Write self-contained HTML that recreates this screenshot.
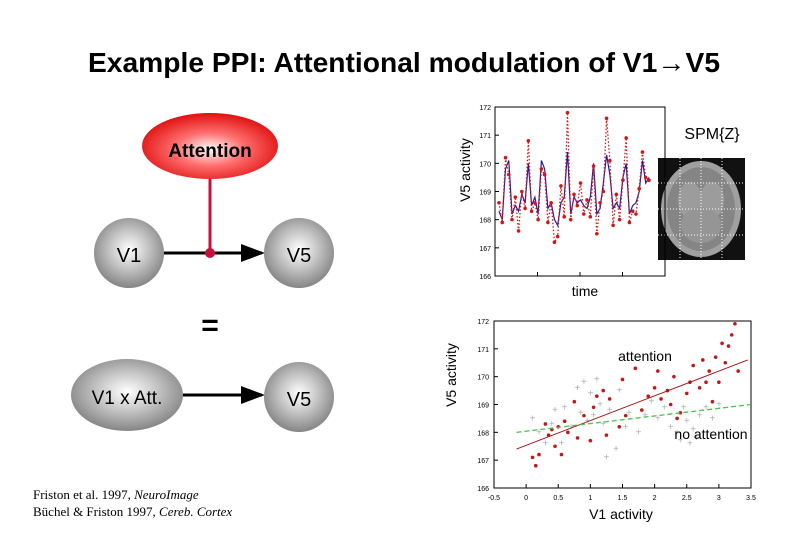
<!DOCTYPE html>
<html><head><meta charset="utf-8">
<style>
html,body{margin:0;padding:0;background:#fff;}
svg{display:block;font-family:"Liberation Sans",sans-serif;}
</style></head>
<body>
<svg id="root" width="810" height="540" viewBox="0 0 810 540">
<defs>
<radialGradient id="gGrey" cx="50%" cy="45%" r="55%">
<stop offset="0" stop-color="#ffffff"/><stop offset="0.5" stop-color="#c4c4c4"/><stop offset="1" stop-color="#858585"/></radialGradient>
<radialGradient id="gRed" cx="50%" cy="55%" r="55%">
<stop offset="0" stop-color="#ffffff"/><stop offset="0.45" stop-color="#ff7070"/><stop offset="1" stop-color="#e01010"/></radialGradient>
<marker id="arr" markerWidth="8" markerHeight="8" refX="7" refY="4" orient="auto"><path d="M0,1 L8,4 L0,7 z" fill="#000"/></marker>
</defs>
<text x="404" y="72" text-anchor="middle" font-size="28" font-weight="bold" textLength="632" lengthAdjust="spacingAndGlyphs">Example PPI: Attentional modulation of V1→V5</text>

<g>
<line x1="210" y1="175" x2="210" y2="253" stroke="#c8103a" stroke-width="3"/>
<ellipse cx="210" cy="146" rx="68" ry="33" fill="url(#gRed)"/>
<text x="210" y="157" text-anchor="middle" font-size="19" font-weight="bold">Attention</text>
<line x1="164" y1="253" x2="262" y2="253" stroke="#000" stroke-width="3" marker-end="url(#arr)"/>
<circle cx="210" cy="253" r="5" fill="#c8103a"/>
<circle cx="129" cy="253" r="35" fill="url(#gGrey)"/>
<text x="129" y="262" text-anchor="middle" font-size="20">V1</text>
<circle cx="299" cy="253" r="35" fill="url(#gGrey)"/>
<text x="299" y="262" text-anchor="middle" font-size="20">V5</text>
<text x="210" y="335" text-anchor="middle" font-size="30" font-weight="bold">=</text>
<line x1="183" y1="395" x2="262" y2="395" stroke="#000" stroke-width="3" marker-end="url(#arr)"/>
<ellipse cx="127" cy="395" rx="56" ry="36" fill="url(#gGrey)"/>
<text x="127" y="404" text-anchor="middle" font-size="19">V1 x Att.</text>
<circle cx="299" cy="397" r="35" fill="url(#gGrey)"/>
<text x="299" y="406" text-anchor="middle" font-size="20">V5</text>
</g>

<text x="33" y="499" font-size="13" font-family="Liberation Serif,serif">Friston et al. 1997, <tspan font-style="italic">NeuroImage</tspan></text>
<text x="33" y="516" font-size="13" font-family="Liberation Serif,serif">Büchel &amp; Friston 1997, <tspan font-style="italic">Cereb. Cortex</tspan></text>

<g>
<rect x="658" y="158" width="87" height="102" fill="#111"/>
<ellipse cx="701" cy="209" rx="40" ry="48" fill="#a0a0a0"/>
<ellipse cx="701" cy="209" rx="34" ry="42" fill="#858585"/>
<ellipse cx="690" cy="200" rx="12" ry="18" fill="#9c9c9c"/>
<ellipse cx="712" cy="200" rx="12" ry="18" fill="#9c9c9c"/>
<ellipse cx="701" cy="225" rx="20" ry="18" fill="#959595"/>
<g stroke="#fff" stroke-dasharray="1,2" stroke-width="1">
<line x1="701" y1="158" x2="701" y2="260"/><line x1="658" y1="209" x2="745" y2="209"/>
<line x1="658" y1="183" x2="745" y2="183"/><line x1="658" y1="235" x2="745" y2="235"/>
<line x1="680" y1="158" x2="680" y2="260"/><line x1="722" y1="158" x2="722" y2="260"/></g>
</g>
<text x="712" y="139" text-anchor="middle" font-size="16">SPM{Z}</text>

<g id="ts"></g>
<g id="sc"></g>
</svg>
<script>
const NS="http://www.w3.org/2000/svg";
const tsTicks=[166,167,168,169,170,171,172];
const tsTickLabels=["166","167","168","169","170","171","172"];
const tsFitted=[168.3,168.0,169.8,170.1,168.2,168.5,168.3,168.9,168.6,170.0,168.5,168.8,168.2,170.1,169.8,168.4,168.6,168.0,167.8,168.6,168.8,170.4,168.2,168.8,168.6,168.7,168.5,168.4,168.8,170.0,168.2,168.4,169.3,170.3,169.6,168.4,168.6,168.4,169.5,170.0,168.2,168.5,168.6,169.0,170.1,169.3,169.5];
const tsObserved=[168.6,167.9,170.2,169.6,168.0,168.8,167.6,169.0,168.4,170.8,168.3,168.6,168.0,169.8,169.6,167.9,168.6,167.2,167.4,169.2,168.1,171.8,168.0,168.9,168.5,169.3,168.2,168.7,168.1,169.9,167.5,168.6,169.0,171.6,170.1,167.8,168.9,168.0,169.4,170.9,167.9,168.3,168.2,169.1,170.4,169.5,169.4];
const scXTicks=[-0.5,0,0.5,1,1.5,2,2.5,3,3.5];
const scXTickLabels=["-0.5","0","0.5","1","1.5","2","2.5","3","3.5"];
const scYTicks=[166,167,168,169,170,171,172];
const scYTickLabels=["166","167","168","169","170","171","172"];
const attX=[0.1,0.15,0.2,0.3,0.35,0.45,0.5,0.55,0.6,0.65,0.75,0.8,0.9,1.0,1.05,1.1,1.2,1.25,1.3,1.5,1.55,1.7,1.8,1.9,2.0,2.05,2.1,2.2,2.25,2.3,2.4,2.5,2.55,2.6,2.7,2.8,2.85,2.9,2.95,3.0,3.05,3.1,3.15,3.2,3.25,3.3,2.75,2.35,1.45,0.4];
const attY=[167.1,166.8,167.2,168.3,167.9,167.5,168.2,167.2,168.4,168.0,169.1,167.8,168.6,167.7,168.9,169.3,169.5,167.9,169.2,169.9,168.6,170.3,168.8,169.3,169.6,170.2,169.2,169.5,169.0,170.0,168.7,169.4,169.8,170.4,169.6,169.8,170.2,169.1,170.7,169.8,171.2,170.5,171.1,171.5,171.9,170.2,170.6,168.5,168.2,168.1];
const noX=[0.1,0.2,0.3,0.4,0.45,0.55,0.6,0.7,0.8,0.85,0.9,0.95,1.0,1.05,1.1,1.15,1.2,1.3,1.4,1.45,1.55,1.6,1.75,1.85,1.95,2.05,2.15,2.25,2.35,2.4,2.45,2.5,2.6,2.65,2.7,2.8,2.9,3.0,2.55,1.25];
const noY=[168.5,168.0,167.6,168.3,168.8,167.6,168.9,168.2,169.6,168.7,169.8,168.4,169.4,168.6,169.9,169.0,168.3,168.8,167.4,169.5,168.2,168.7,168.0,168.6,169.1,168.5,168.9,168.2,168.0,167.7,168.9,168.4,168.1,167.8,168.6,168.9,168.5,169.0,167.6,167.1];
const attFit=[-0.15,167.4,3.45,170.6];
const noFit=[-0.15,168.0,3.5,169.0];

function el(tag,attrs,parent){const e=document.createElementNS(NS,tag);for(const k in attrs)e.setAttribute(k,attrs[k]);parent.appendChild(e);return e;}

(function(){
const g=document.getElementById('ts');
const L=495,R=665,T=107,B=276;
const y=v=>B-(v-166)/6*(B-T);
const x=i=>L+4+i*(150)/(tsFitted.length-1);
const fr=el('rect',{x:L,y:T,width:R-L,height:B-T,fill:'none',stroke:'#000','stroke-width':1},g);


tsTicks.forEach((t,i)=>{
 el('line',{x1:L,y1:y(t),x2:L+4,y2:y(t),stroke:'#000'},g);
 const tx=el('text',{x:L-4,y:y(t)+3,'text-anchor':'end','font-size':7},g);
 tx.textContent=tsTickLabels[i];
 
 
});
[0,1,2,3].forEach(k=>el('line',{x1:L+k*42.5,y1:B,x2:L+k*42.5,y2:B-4,stroke:'#000'},g));
const ln=el('polyline',{points:tsFitted.map((v,i)=>x(i)+','+y(v)).join(' '),fill:'none',stroke:'#2a1a9a','stroke-width':1.2},g);


const ob=el('polyline',{points:tsObserved.map((v,i)=>x(i)+','+y(v)).join(' '),fill:'none',stroke:'#d01818','stroke-width':1.3,'stroke-dasharray':'1.5,2'},g);


tsObserved.forEach((v,i)=>{const c=el('circle',{cx:x(i),cy:y(v),r:1.8,fill:'#d01818'},g);
 
 });
const yl=el('text',{x:0,y:0,transform:'translate(470,170) rotate(-90)','text-anchor':'middle','font-size':14},g);
yl.textContent='V5 activity';


const xl=el('text',{x:585,y:296,'text-anchor':'middle','font-size':14},g);
xl.textContent='time';


})();

(function(){
const g=document.getElementById('sc');
const L=494,R=751,T=321,B=488;
const x=v=>L+(v+0.5)/4*(R-L);
const y=v=>B-(v-166)/6*(B-T);
const fr=el('rect',{x:L,y:T,width:R-L,height:B-T,fill:'none',stroke:'#000','stroke-width':1},g);


scYTicks.forEach((t,i)=>{
 el('line',{x1:L,y1:y(t),x2:L+4,y2:y(t),stroke:'#000'},g);
 const tx=el('text',{x:L-5,y:y(t)+3,'text-anchor':'end','font-size':7},g);
 tx.textContent=scYTickLabels[i];
 
 
});
scXTicks.forEach((t,i)=>{
 el('line',{x1:x(t),y1:B,x2:x(t),y2:B-4,stroke:'#000'},g);
 const tx=el('text',{x:x(t),y:B+12,'text-anchor':'middle','font-size':7},g);
 tx.textContent=scXTickLabels[i];
 
 
});
noX.forEach((v,i)=>{const t=el('text',{x:x(v),y:y(noY[i])+3,'text-anchor':'middle','font-size':10,fill:'#b0b0b0'},g);t.textContent='+';
 
 });
attX.forEach((v,i)=>{const c=el('circle',{cx:x(v),cy:y(attY[i]),r:1.8,fill:'#c01818'},g);
 
 });
const f1=el('line',{x1:x(attFit[0]),y1:y(attFit[1]),x2:x(attFit[2]),y2:y(attFit[3]),stroke:'#a01818','stroke-width':1},g);


const f2=el('line',{x1:x(noFit[0]),y1:y(noFit[1]),x2:x(noFit[2]),y2:y(noFit[3]),stroke:'#50c050','stroke-width':1.3,'stroke-dasharray':'5,3'},g);


const a=el('text',{x:645,y:361,'text-anchor':'middle','font-size':14},g);a.textContent='attention';


const n=el('text',{x:711,y:439,'text-anchor':'middle','font-size':14},g);n.textContent='no attention';


const yl=el('text',{x:0,y:0,transform:'translate(456,375) rotate(-90)','text-anchor':'middle','font-size':14},g);
yl.textContent='V5 activity';


const xl=el('text',{x:621,y:519,'text-anchor':'middle','font-size':14},g);
xl.textContent='V1 activity';


})();
</script>
</body></html>
